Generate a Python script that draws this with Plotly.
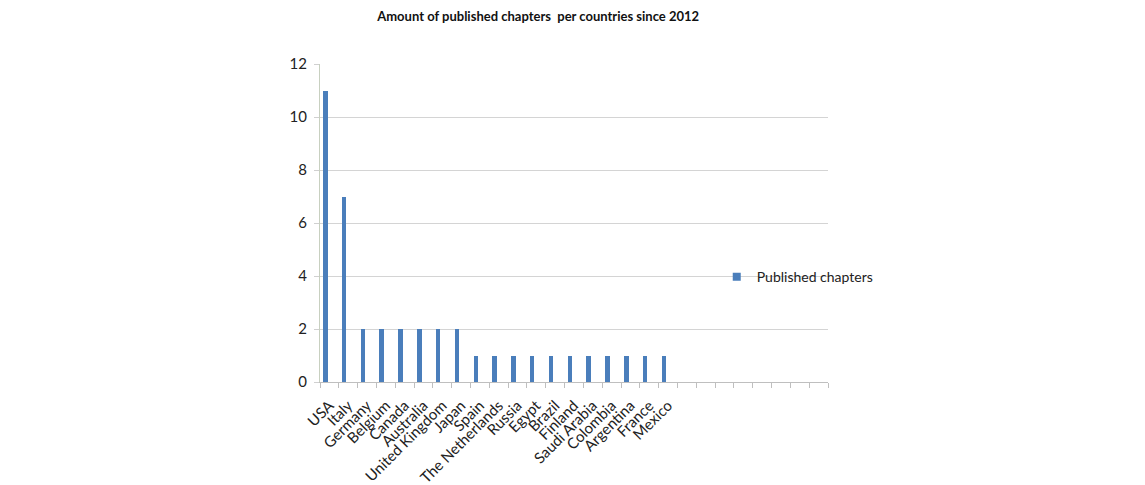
import plotly.graph_objects as go

countries = ["USA", "Italy", "Germany", "Belgium", "Canada", "Australia", "United Kingdom",
             "Japan", "Spain", "The Netherlands", "Russia", "Egypt", "Brazil", "Finland",
             "Saudi Arabia", "Colombia", "Argentina", "France", "Mexico"]
chapters = [11, 7, 2, 2, 2, 2, 2, 2, 1, 1, 1, 1, 1, 1, 1, 1, 1, 1, 1]
empty_slots = [" " * (i + 1) for i in range(8)]
y_ticks = [0, 2, 4, 6, 8, 10, 12]

categories = countries + empty_slots
values = chapters + [None] * len(empty_slots)

BLUE = "#4a7ebb"
FONT = "Lato"

fig = go.Figure()
fig.add_trace(go.Bar(
    x=categories, y=values, marker=dict(color=BLUE, line=dict(width=0)),
    width=0.24, offset=-0.34, showlegend=False, name="Published chapters",
))
fig.add_trace(go.Scatter(
    x=[None], y=[None], mode="markers", name="Published chapters",
    marker=dict(symbol="square", size=8, color=BLUE), showlegend=True,
))

fig.update_layout(
    width=1145, height=485,
    margin=dict(l=320, r=317, t=64, b=103),
    paper_bgcolor="white", plot_bgcolor="white",
    font=dict(family=FONT, size=14, color="#222222"),
    title=dict(text="<b>Amount of published chapters  per countries since 2012</b>",
               x=0.47, xanchor="center", y=0.967, yanchor="middle",
               font=dict(family=FONT, size=13, color="#111111")),
    bargap=0,
    legend=dict(x=0.781, xanchor="left", y=0.33, yanchor="middle",
                bgcolor="rgba(0,0,0,0)", itemwidth=30,
                font=dict(family=FONT, size=14, color="#222222")),
    xaxis=dict(type="category", categoryorder="array", categoryarray=categories,
               range=[-0.5, len(categories) - 0.5], automargin=False,
               tickangle=-45, tickson="boundaries", ticks="outside", ticklen=5,
               tickcolor="#bfbfbf", showline=True, linecolor="#bfbfbf", linewidth=1,
               showgrid=False, zeroline=False, ticklabelstandoff=8,
               tickfont=dict(size=15)),
    yaxis=dict(range=[0, 12], tickvals=y_ticks, ticks="outside", ticklen=5,
               automargin=False,
               tickcolor="#d0d0d0", showline=True, linecolor="#c8d0c0", linewidth=1,
               showgrid=True, gridcolor="#d4d4d4", gridwidth=1, zeroline=False,
               ticklabelstandoff=4, tickfont=dict(size=15)),
)

fig.write_html("out.html")
